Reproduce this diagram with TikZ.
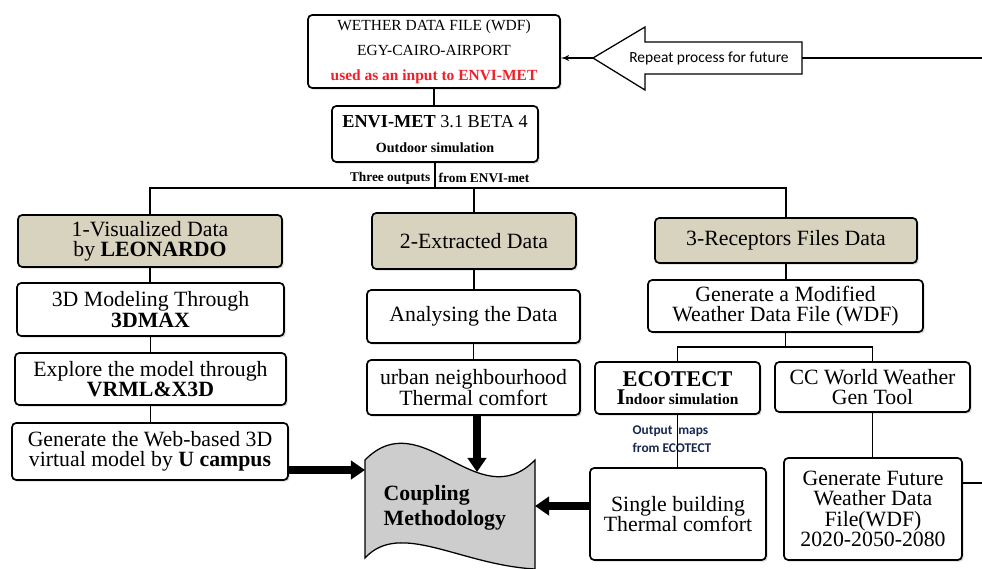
\documentclass[tikz,border=0pt]{standalone}
\usepackage{fontspec}
\setmainfont{Liberation Serif}
\newfontfamily\calibri{Carlito}
\usetikzlibrary{arrows,arrows.meta,calc,shadows}

\definecolor{tan}{RGB}{216,211,190}
\definecolor{wdfred}{RGB}{245,30,40}
\definecolor{navy}{RGB}{25,40,80}
\definecolor{tapegray}{RGB}{205,205,205}

\begin{document}
\begin{tikzpicture}[>=latex', line width=1pt]
    \tikzstyle{box}=[draw=black, line width=1.2pt, rounded corners=3pt, align=center, fill=white, inner sep=1pt,
        drop shadow={shadow xshift=1.2pt, shadow yshift=-1.2pt, opacity=0.3}, font=\fontsize{15.5}{14.5}\selectfont]
    \tikzstyle{head}=[box, fill=tan]
    \tikzstyle{fat}=[line width=5.5pt, -{Triangle[width=13pt,length=10pt]}]

    \useasboundingbox (0,0) rectangle (24.55,-14.225);

    % input file and outdoor model
    \node[box, minimum width=6.3cm, minimum height=1.825cm, font=\fontsize{11}{17.8}\selectfont] (wdf) at (10.85,-1.2875)
        {WETHER DATA FILE (WDF)\\EGY-CAIRO-AIRPORT\\\textcolor{wdfred}{\textbf{used as an input to ENVI-MET}}};
    \node[box, minimum width=5.15cm, minimum height=1.4cm, font=\fontsize{13}{17.8}\selectfont] (envi) at (10.875,-3.35)
        {\textbf{ENVI-MET} 3.1 BETA 4\\{\fontsize{10}{17.8}\selectfont\textbf{Outdoor simulation}}};
    \draw (wdf.south) -- (wdf.south |- envi.north);

    \node[anchor=east, inner sep=0pt, font=\fontsize{9.5}{11}\selectfont\bfseries] (outA) at (10.775,-4.45) {Three outputs};
    \node[anchor=west, inner sep=0pt, font=\fontsize{9.5}{11}\selectfont\bfseries] (outB) at (10.95,-4.45) {from ENVI-met};

    % repeat loop
    \coordinate (repTip) at (14.825,-1.45);
    \coordinate (repTail) at (20.05,-1.45);
    \coordinate (repEnd) at (24.55,-1.45);
    \draw[line width=0.9pt, fill=white] (repTip) -- (16.125,-0.675) -- (16.125,-1.05) -- (20.05,-1.05)
        -- (20.05,-1.85) -- (16.125,-1.85) -- (16.125,-2.25) -- cycle;
    \node[font=\calibri\fontsize{11}{13}\selectfont] (repeat) at (17.725,-1.45) {Repeat process for future};
    \draw (repTail) -- (repEnd);
    \draw[->] (repTip) -- (repTip -| wdf.east);

    % three outputs
    \node[head, minimum width=6.6cm, minimum height=1.3cm] (vis) at (3.75,-6.025) {1-Visualized Data\\by \textbf{LEONARDO}};
    \node[head, minimum width=5.1cm, minimum height=1.4cm] (ext) at (11.85,-6.025) {2-Extracted Data};
    \node[head, minimum width=6.55cm, minimum height=1.125cm] (rec) at (19.65,-6.0125) {3-Receptors Files Data};

    \coordinate (bus) at (10.875,-4.7);
    \draw (envi.south) -- (bus);
    \draw (vis.north) |- (bus) -| (rec.north);
    \draw (ext.north) -- (ext.north |- bus);

    % left branch
    \node[box, minimum width=6.675cm, minimum height=1.325cm] (model3d) at (3.7625,-7.7375) {3D Modeling Through\\\textbf{3DMAX}};
    \node[box, minimum width=6.775cm, minimum height=1.3cm] (vrml) at (3.7625,-9.475) {Explore the model through\\\textbf{VRML\&X3D}};
    \node[box, minimum width=6.9cm, minimum height=1.425cm] (web) at (3.75,-11.2875) {Generate the Web-based 3D\\virtual model by \textbf{U campus}};
    \draw (vis.south) -- (vis.south |- model3d.north);
    \draw (model3d.south) -- (model3d.south |- vrml.north);
    \draw (vrml.south) -- (vrml.south |- web.north);

    % middle branch
    \node[box, minimum width=5.325cm, minimum height=1.325cm] (ana) at (11.8375,-7.9125) {Analysing the Data};
    \node[box, minimum width=5.325cm, minimum height=1.375cm] (urban) at (11.8375,-9.6875) {urban neighbourhood\\Thermal comfort};
    \draw (ext.south) -- (ext.south |- ana.north);
    \draw (ana.south) -- (urban.north);

    % right branch
    \node[box, minimum width=6.875cm, minimum height=1.3cm] (gen) at (19.6375,-7.65) {Generate a Modified\\Weather Data File (WDF)};
    \node[box, minimum width=4.125cm, minimum height=1.3cm, font=\fontsize{11}{13}\selectfont] (eco) at (16.9375,-9.7)
        {{\fontsize{16}{13}\selectfont\textbf{ECOTECT}}\\\textbf{{\fontsize{16}{13}\selectfont I}ndoor simulation}};
    \node[box, minimum width=4.875cm, minimum height=1.25cm] (cc) at (21.8125,-9.675) {CC World Weather\\Gen Tool};
    \node[box, minimum width=4.4cm, minimum height=2.3cm] (single) at (16.95,-12.85) {Single building\\Thermal comfort};
    \node[box, minimum width=4.45cm, minimum height=2.55cm] (future) at (21.825,-12.725) {Generate Future\\Weather Data\\File(WDF)\\2020-2050-2080};

    \coordinate (bus2) at (19.6375,-8.675);
    \draw (rec.south) -- (rec.south |- gen.north);
    \draw (gen.south) -- (bus2);
    \draw (eco.north) |- (bus2) -| (cc.north);

    \node[anchor=west, align=left, inner sep=0pt, text=navy, font=\calibri\bfseries\fontsize{9.5}{12.8}\selectfont] (maps) at (15.8,-10.975)
        {Output\hspace{2pt} maps\\from ECOTECT};
    \draw (eco.south) -- (eco.south |- single.north);
    \draw (cc.south) -- (cc.south |- future.north);

    \coordinate (futEnd) at (24.55,-12.075);
    \draw (futEnd -| future.east) -- (futEnd);

    % coupling shape
    \coordinate (cpTL) at (9.125,-11.5);
    \coordinate (cpTR) at (13.375,-11.5);
    \coordinate (cpBR) at (13.375,-14.225);
    \coordinate (cpBL) at (9.125,-13.95);
    \draw[fill=tapegray, line width=0.9pt] (cpTL) .. controls (10.55,-10.05) and (11.95,-12.95) .. (cpTR)
        -- (cpBR) .. controls (11.5,-14.125) and (10,-13) .. (cpBL) -- cycle;
    \node[anchor=west, align=left, inner sep=0pt, font=\bfseries\fontsize{15.5}{17.8}\selectfont] (coupling) at (9.575,-12.7)
        {Coupling\\Methodology};

    \coordinate (cpL) at (9.125,-11.75);
    \coordinate (cpT) at (11.925,-11.8);
    \coordinate (cpR) at (13.375,-12.65);
    \draw[fat] (web.east |- cpL) -- (cpL);
    \draw[fat] (cpT |- urban.south) -- (cpT);
    \draw[fat] (single.west |- cpR) -- (cpR);
\end{tikzpicture}
\end{document}
